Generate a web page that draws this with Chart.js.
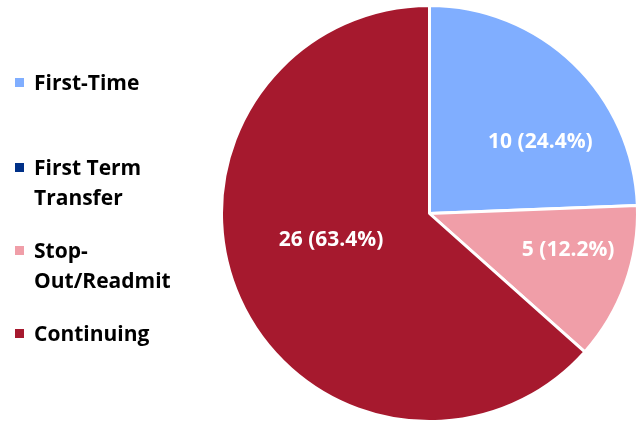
<!DOCTYPE html>
<html>
<head>
<meta charset="utf-8">
<script src="https://cdn.jsdelivr.net/npm/chart.js@4"></script>
<style>
  html, body { margin: 0; padding: 0; background: #fff; }
  #wrap { position: relative; width: 644px; height: 424px; }
  #pieChart { position: absolute; left: 0; top: 0; }
  #legend { position: absolute; left: 0; top: 0; font-family: "Open Sans", sans-serif; font-weight: bold; font-size: 21px; color: #000; }
  .item { position: absolute; left: 15px; line-height: 30px; white-space: nowrap; }
  .box { position: absolute; left: 0; top: 11px; width: 9px; height: 9px; }
  .txt { position: absolute; left: 19px; top: 0; }
</style>
</head>
<body>
<div id="wrap">
  <canvas id="pieChart" width="644" height="424"></canvas>
  <div id="legend"></div>
</div>
<script>
document.addEventListener("DOMContentLoaded", function () {
    const categories = ['First-Time', 'First Term Transfer', 'Stop-Out/Readmit', 'Continuing'];
    const legendLines = [['First-Time'], ['First Term', 'Transfer'], ['Stop-', 'Out/Readmit'], ['Continuing']];
    const counts = [10, 0, 5, 26];
    const colors = ['#80AEFF', '#003087', '#F09EA8', '#A6192E'];

    // where each label sits inside its slice: [fraction of sweep, fraction of radius]
    const labelPlace = [[0.65, 0.635], [0.5, 0.6], [0.39, 0.69], [0.54, 0.49]];
    const legendTops = [67, 152, 235, 318];

    const total = counts.reduce((a, b) => a + b, 0);

    const sliceLabels = {
        id: 'sliceLabels',
        afterDatasetsDraw(chart) {
            const ctx = chart.ctx;
            const meta = chart.getDatasetMeta(0);
            ctx.save();
            ctx.font = 'bold 21px "Open Sans", sans-serif';
            ctx.fillStyle = '#fff';
            ctx.textAlign = 'center';
            ctx.textBaseline = 'middle';
            meta.data.forEach((arc, i) => {
                const v = counts[i];
                if (!v) return;
                const p = arc.getProps(['x', 'y', 'startAngle', 'endAngle', 'outerRadius'], true);
                const a = p.startAngle + (p.endAngle - p.startAngle) * labelPlace[i][0];
                const r = p.outerRadius * labelPlace[i][1];
                const pct = (v / total * 100).toFixed(1);
                ctx.fillText(v + ' (' + pct + '%)', p.x + Math.cos(a) * r, p.y + Math.sin(a) * r);
            });
            ctx.restore();
        }
    };

    new Chart(document.getElementById('pieChart').getContext('2d'), {
        type: 'pie',
        data: {
            labels: categories,
            datasets: [{
                data: counts,
                backgroundColor: colors,
                borderColor: '#fff',
                borderWidth: 3
            }]
        },
        options: {
            responsive: false,
            animation: false,
            events: [],
            layout: { padding: { left: 220, right: 5, top: 4, bottom: 1 } },
            plugins: {
                legend: { display: false },
                tooltip: { enabled: false }
            }
        },
        plugins: [sliceLabels]
    });

    // legend on the left
    const legend = document.getElementById('legend');
    legendLines.forEach((lines, i) => {
        const item = document.createElement('div');
        item.className = 'item';
        item.style.top = legendTops[i] + 'px';
        const box = document.createElement('div');
        box.className = 'box';
        box.style.background = colors[i];
        const txt = document.createElement('div');
        txt.className = 'txt';
        txt.innerHTML = lines.join('<br>');
        item.appendChild(box);
        item.appendChild(txt);
        legend.appendChild(item);
    });
});
</script>
</body>
</html>
